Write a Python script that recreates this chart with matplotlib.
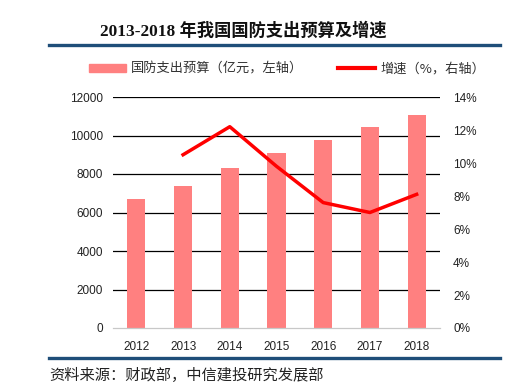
import matplotlib
matplotlib.use("Agg")
import matplotlib.pyplot as plt
import numpy as np
from matplotlib.lines import Line2D
from matplotlib.patches import Patch

plt.rcParams['font.family'] = ['Noto Sans CJK SC', 'DejaVu Sans']

years = ['2012', '2013', '2014', '2015', '2016', '2017', '2018']
budget = [6700, 7380, 8310, 9110, 9770, 10440, 11080]
growth_years = ['2013', '2014', '2015', '2016', '2017', '2018']
growth = [10.5, 12.2, 9.8, 7.6, 7.0, 8.1]
left_ticks = [0, 2000, 4000, 6000, 8000, 10000, 12000]
right_ticks = [0, 2, 4, 6, 8, 10, 12, 14]

W, H = 508, 392
fig = plt.figure(figsize=(W / 100, H / 100), dpi=100)
ax = fig.add_axes([113 / W, 1 - 328 / H, (440 - 113) / W, (328 - 97) / H])

tick_font = ['Liberation Sans', 'DejaVu Sans']

x = np.arange(len(years))
ax.bar(x, budget, width=0.39, color='#FF8080', zorder=2)
ax.set_xlim(-0.5, len(years) - 0.5)
ax.set_ylim(0, 12000)
ax.set_yticks(left_ticks)
ax.set_yticklabels([str(v) for v in left_ticks], family=tick_font)
ax.set_xticks(x)
ax.set_xticklabels(years, family=tick_font)
for yv in left_ticks[1:]:
    ax.axhline(yv, color='black', lw=0.9, zorder=1)
for s in ['top', 'right', 'left']:
    ax.spines[s].set_visible(False)
ax.spines['bottom'].set_color('#C8C8C8')
ax.spines['bottom'].set_linewidth(0.9)
ax.tick_params(axis='both', length=0, labelsize=8.5, colors='#222222')
ax.tick_params(axis='y', pad=7.2)
ax.tick_params(axis='x', pad=9)

ax2 = ax.twinx()
gx = [years.index(g) for g in growth_years]
ax2.plot(gx, growth, color='#FF0000', lw=2.5, zorder=3, solid_joinstyle='round')
ax2.set_ylim(0, 14)
ax2.set_yticks(right_ticks)
ax2.set_yticklabels([f'{v}%' for v in right_ticks], family=tick_font)
for s in ['top', 'right', 'left', 'bottom']:
    ax2.spines[s].set_visible(False)
ax2.tick_params(axis='y', length=0, labelsize=8.5, colors='#222222', pad=9.4)

# title
fig.text(243 / W, 1 - 31 / H, '2013-2018 年我国国防支出预算及增速',
         ha='center', va='center', fontsize=12.4, fontweight='bold',
         family=['Liberation Serif', 'Noto Sans CJK SC'], color='#111111')
fig.add_artist(Line2D([49 / W, 500 / W], [1 - 45 / H, 1 - 45 / H], color='#1F4E79', lw=2.4))

# legend
handles = [Patch(color='#FF8080'), Line2D([0], [0], color='#FF0000', lw=3)]
labels = ['国防支出预算（亿元，左轴）', '增速（%，右轴）']
fig.legend(handles, labels, loc='center', bbox_to_anchor=(287 / W, 1 - 69 / H), ncol=2,
           frameon=False, fontsize=9.5, handlelength=2.8, handleheight=0.5,
           columnspacing=2.6, handletextpad=0.4, labelcolor='#333333')

# bottom line and source
fig.add_artist(Line2D([49 / W, 500 / W], [1 - 358 / H, 1 - 358 / H], color='#1F4E79', lw=2.4))
fig.text(49 / W, 1 - 375 / H, '资料来源：财政部，中信建投研究发展部', ha='left', va='center',
         fontsize=11, style='italic', color='#222222')

fig.savefig('out.png', dpi=100, facecolor='white')
